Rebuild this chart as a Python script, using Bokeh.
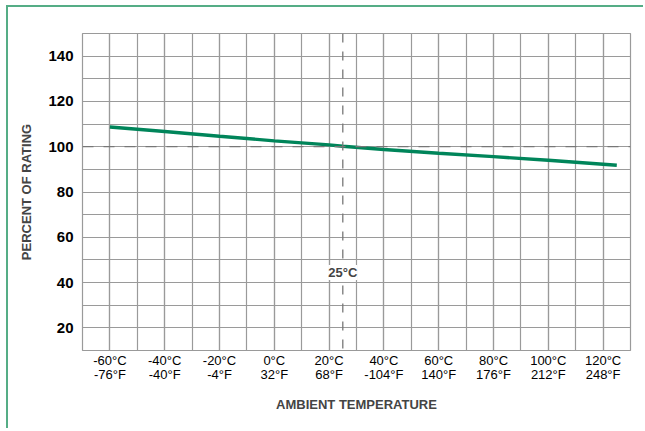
from bokeh.plotting import figure
from bokeh.models import FixedTicker, Span, Label, Range1d
from bokeh.embed import file_html
from bokeh.resources import INLINE

# ---- data ----
temps_c = [-60, -40, -20, 0, 20, 25, 40, 60, 80, 100, 125]
percent = [108.7, 106.7, 104.6, 102.6, 100.8, 100.2, 98.8, 97.1, 95.6, 94.0, 91.8]

tick_c = [-60, -40, -20, 0, 20, 40, 60, 80, 100, 120]
tick_c_labels = ["-60°C", "-40°C", "-20°C", "0°C", "20°C", "40°C", "60°C", "80°C", "100°C", "120°C"]
tick_f_labels = ["-76°F", "-40°F", "-4°F", "32°F", "68°F", "-104°F", "140°F", "176°F", "212°F", "248°F"]
minor_c = list(range(-70, 131, 10))
y_ticks = [20, 40, 60, 80, 100, 120, 140]
minor_y = list(range(10, 151, 10))
ref_temp = 25
ref_percent = 100
ref_label = "25°C"
x_title = "AMBIENT TEMPERATURE"
y_title = "PERCENT OF RATING"

# ---- styles ----
FONT = "Liberation Sans"
GRID = "#9a9a9a"
GREEN = "#00855a"
FRAME_GREEN = "#55ad86"

p = figure(width=637, height=423, output_backend="svg", toolbar_location=None,
           x_range=Range1d(-70, 130), y_range=Range1d(10, 150),
           min_border_left=74, min_border_right=15, min_border_top=26, min_border_bottom=80)
p.styles = {"margin-left": "6px", "margin-top": "5px",
            "border-left": f"2px solid {FRAME_GREEN}", "border-top": f"2px solid {FRAME_GREEN}"}
p.outline_line_color = GRID
p.outline_line_width = 1.2

p.xaxis.ticker = FixedTicker(ticks=tick_c, minor_ticks=minor_c)
p.yaxis.ticker = FixedTicker(ticks=y_ticks, minor_ticks=minor_y)
p.xaxis.major_label_overrides = {c: f"{a}\n{b}" for c, a, b in zip(tick_c, tick_c_labels, tick_f_labels)}

for ax in (p.xaxis, p.yaxis):
    ax.axis_line_color = None
    ax.major_tick_line_color = None
    ax.minor_tick_line_color = None
    ax.major_tick_out = 0
    ax.major_tick_in = 0
    ax.minor_tick_out = 0
    ax.minor_tick_in = 0
    ax.major_label_text_color = "black"

p.xaxis.major_label_text_font = FONT
p.xaxis.major_label_text_font_size = "13px"
p.xaxis.major_label_text_line_height = 0.95
p.xaxis.major_label_standoff = 2
p.xaxis.axis_label = x_title
p.xaxis.axis_label_text_font = FONT
p.xaxis.axis_label_text_font_style = "bold"
p.xaxis.axis_label_text_font_size = "13px"
p.xaxis.axis_label_standoff = 12

p.yaxis.major_label_text_font = FONT
p.yaxis.major_label_text_font_style = "bold"
p.yaxis.major_label_text_font_size = "15px"
p.yaxis.major_label_standoff = 9
p.yaxis.axis_label = y_title
p.yaxis.axis_label_text_font = FONT
p.yaxis.axis_label_text_font_style = "bold"
p.yaxis.axis_label_text_font_size = "13px"
p.yaxis.axis_label_standoff = 11

for g in (p.xgrid, p.ygrid):
    g.grid_line_color = GRID
    g.grid_line_width = 1.2
    g.minor_grid_line_color = GRID
    g.minor_grid_line_width = 1.2

p.add_layout(Span(location=ref_percent, dimension="width", line_color="#777777",
                  line_width=1.3, line_dash="11 10"))
p.add_layout(Span(location=ref_temp, dimension="height", line_color="#777777",
                  line_width=1.3, line_dash="9 9"))

p.line(temps_c, percent, line_color=GREEN, line_width=3.4)

p.add_layout(Label(x=ref_temp, y=44.5, text=ref_label, text_align="center",
                   text_baseline="middle", text_font=FONT, text_font_style="bold",
                   text_font_size="13px", background_fill_color="white"))

open("out.html", "w").write(file_html(p, INLINE))
